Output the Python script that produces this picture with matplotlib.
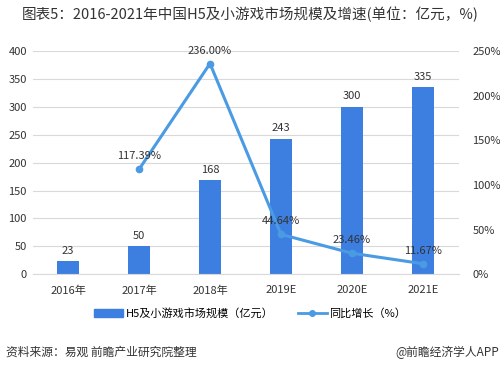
import matplotlib
matplotlib.use("Agg")
import matplotlib.pyplot as plt
import numpy as np

plt.rcParams['font.family'] = ['Noto Sans CJK SC', 'DejaVu Sans']

years = ['2016年', '2017年', '2018年', '2019E', '2020E', '2021E']
scale = [23, 50, 168, 243, 300, 335]
growth_years = [1, 2, 3, 4, 5]
growth = [117.39, 236.00, 44.64, 23.46, 11.67]

bar_color = '#3D7FE0'
line_color = '#4A9BE3'
text_color = '#333333'

fig = plt.figure(figsize=(5, 3.7), dpi=100)
ax = fig.add_axes([0.065, 0.259, 0.852, 0.603])
ax2 = ax.twinx()

x = np.arange(len(years))
ax.bar(x, scale, width=0.31, color=bar_color, zorder=2)
for xi, v in zip(x, scale):
    ax.text(xi, v + 10, str(v), ha='center', va='bottom', fontsize=8, color=text_color)

ax.set_ylim(0, 400)
ax.set_yticks(range(0, 401, 50))
ax.set_xlim(-0.5, len(years) - 0.5)
ax.set_xticks(x)
ax.set_xticklabels(years)
ax.grid(axis='y', color='#d9d9d9', linewidth=0.8, zorder=0)
ax.set_axisbelow(True)

ax2.plot(growth_years, growth, color=line_color, linewidth=2.2, marker='o',
         markersize=4.5, zorder=3)
for xi, v in zip(growth_years, growth):
    ax2.text(xi, v + 9, f'{v:.2f}%', ha='center', va='bottom', fontsize=8, color=text_color)
ax2.set_ylim(0, 250)
ax2.set_yticks(range(0, 251, 50))
ax2.set_yticklabels([f'{t}%' for t in range(0, 251, 50)])

for a in (ax, ax2):
    for s in a.spines.values():
        s.set_visible(False)
    a.tick_params(length=0, labelsize=8, colors=text_color)
ax.spines['bottom'].set_visible(True)
ax.spines['bottom'].set_color('#d9d9d9')
ax.tick_params(axis='y', pad=4)
ax2.tick_params(axis='y', pad=10)
ax.tick_params(axis='x', pad=8)

handles = [plt.Rectangle((0, 0), 1, 1, color=bar_color),
           plt.Line2D([], [], color=line_color, linewidth=2, marker='o', markersize=4)]
fig.legend(handles, ['H5及小游戏市场规模（亿元）', '同比增长（%）'],
           loc='center', bbox_to_anchor=(0.5, 0.153), ncol=2, frameon=False,
           fontsize=8, handlelength=2.6, columnspacing=2.2, handletextpad=0.2)

fig.text(0.5, 0.962, '图表5：2016-2021年中国H5及小游戏市场规模及增速(单位：亿元，%)',
         ha='center', va='center', fontsize=10.5, color=text_color)
fig.text(0.012, 0.048, '资料来源：易观 前瞻产业研究院整理', ha='left', va='center',
         fontsize=8.5, color=text_color)
fig.text(0.998, 0.048, '@前瞻经济学人APP', ha='right', va='center',
         fontsize=8.5, color=text_color)

fig.savefig('out.png', dpi=100)
